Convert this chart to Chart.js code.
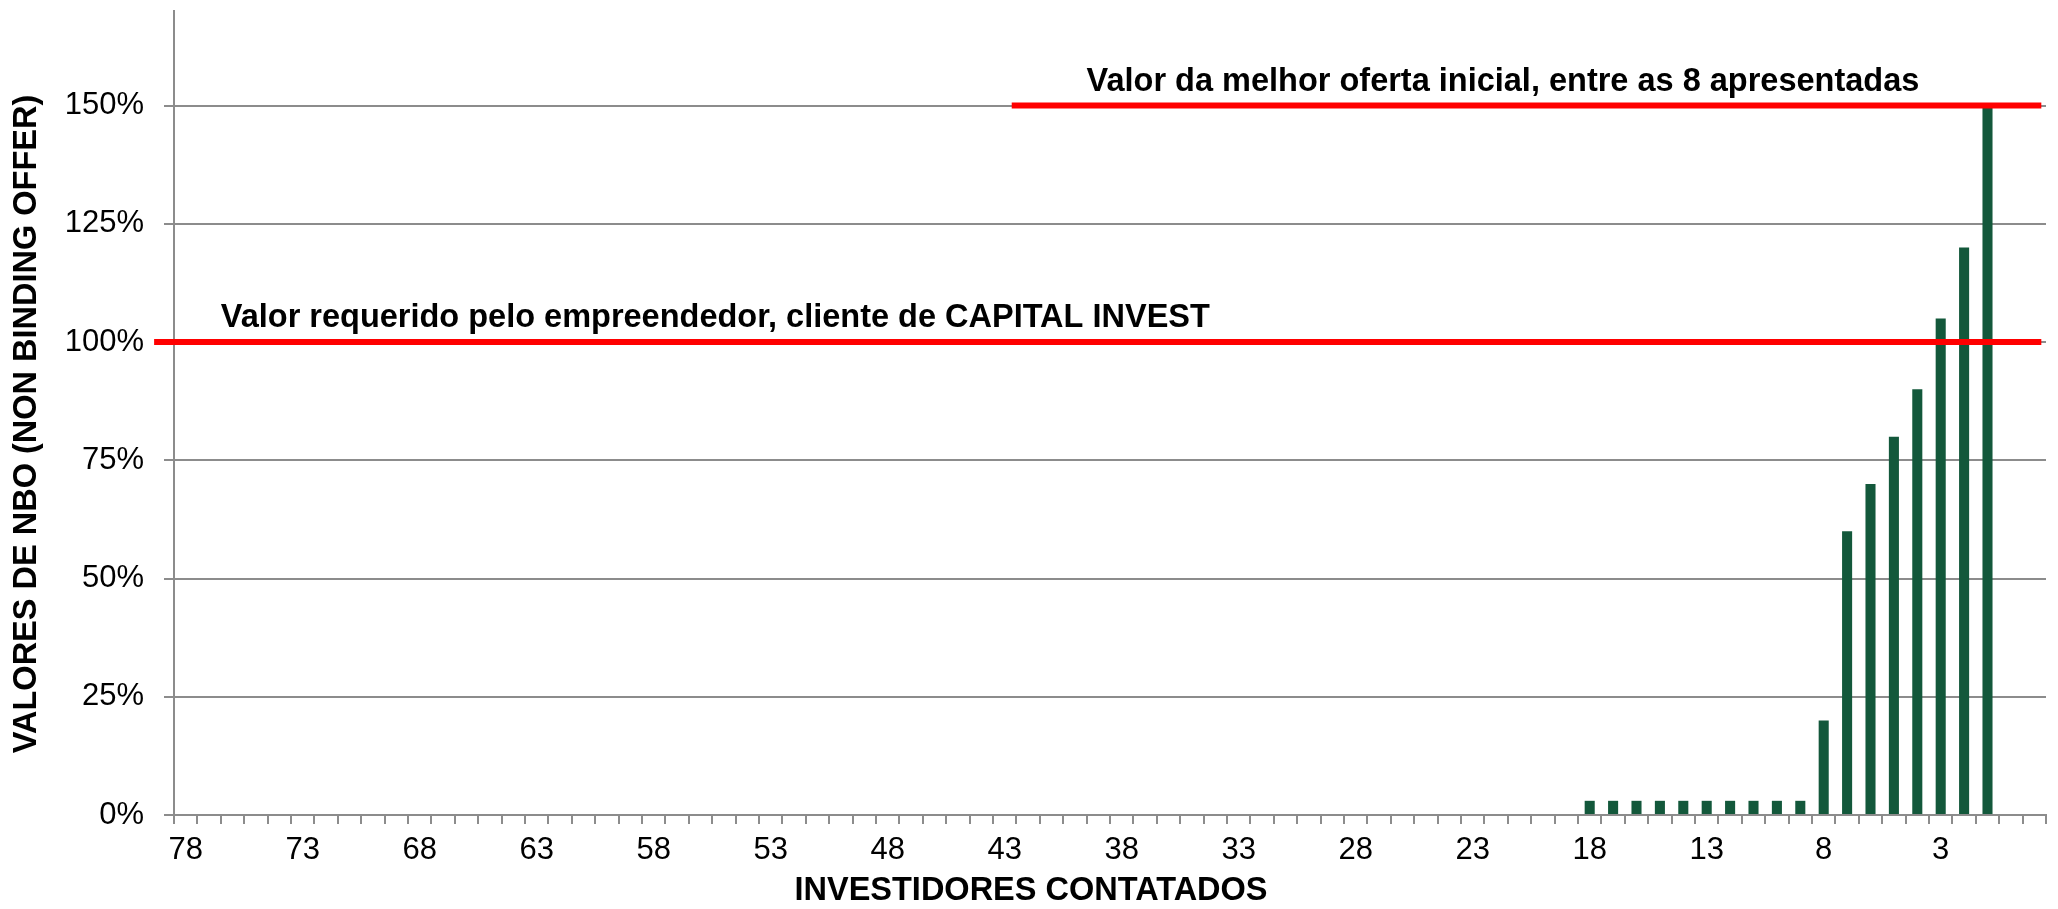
<!DOCTYPE html>
<html><head><meta charset="utf-8">
<script src="https://cdn.jsdelivr.net/npm/chart.js@4.4.1/dist/chart.umd.min.js"></script>
<style>html,body{margin:0;padding:0;background:#fff;overflow:hidden}</style>
</head><body>
<canvas id="c" width="2058" height="909"></canvas>
<script>
// ---- data ----
const axisCategories = ['78','77','76','75','74','73','72','71','70','69','68','67','66','65','64','63','62','61','60','59',
  '58','57','56','55','54','53','52','51','50','49','48','47','46','45','44','43','42','41','40','39',
  '38','37','36','35','34','33','32','31','30','29','28','27','26','25','24','23','22','21','20','19',
  '18','17','16','15','14','13','12','11','10','9','8','7','6','5','4','3','2','1','',''];
const barCategories = ['18','17','16','15','14','13','12','11','10','9','8','7','6','5','4','3','2','1'];
const barValues = [3,3,3,3,3,3,3,3,3,3,20,60,70,80,90,105,120,150];
const yMax = 170;
const yStep = 25;
const refLevels = [100, 150];
const refStarts = [-1.35, 35.3];   // in category-index units (index centres are whole numbers)
const refEnds = [79.3, 79.3];
const refLabels = ['Valor requerido pelo empreendedor, cliente de CAPITAL INVEST',
                   'Valor da melhor oferta inicial, entre as 8 apresentadas'];
const refLabelStarts = [1.5, 38.5];
const xTitle = 'INVESTIDORES CONTATADOS';
const yTitle = 'VALORES DE NBO (NON BINDING OFFER)';

const FONT = "'Liberation Sans', Arial, sans-serif";
const GRID = '#8c8c8c';
const GREEN = '#13583b';
const RED = '#ff0000';

const overlay = {
  id: 'overlay',
  afterDatasetsDraw(chart) {
    const ctx = chart.ctx;
    const x = chart.scales.x, y = chart.scales.y;
    ctx.save();
    // reference lines
    ctx.strokeStyle = RED;
    ctx.lineWidth = 6;
    ctx.lineCap = 'butt';
    refLevels.forEach((lv, i) => {
      const py = y.getPixelForValue(lv);
      ctx.beginPath();
      ctx.moveTo(x.getPixelForValue(refStarts[i]), py);
      ctx.lineTo(x.getPixelForValue(refEnds[i]), py);
      ctx.stroke();
    });
    // labels above the lines
    ctx.fillStyle = '#000';
    ctx.font = "bold 32.5px " + FONT;
    ctx.textBaseline = 'alphabetic';
    ctx.textAlign = 'left';
    refLabels.forEach((t, i) => {
      ctx.fillText(t, x.getPixelForValue(refLabelStarts[i]), y.getPixelForValue(refLevels[i]) - 15);
    });
    // axis titles
    ctx.font = "bold 32.5px " + FONT;
    ctx.textAlign = 'center';
    ctx.textBaseline = 'middle';
    ctx.fillText(xTitle, 1031, 891);
    ctx.translate(27, 424);
    ctx.rotate(-Math.PI / 2);
    ctx.fillText(yTitle, 0, 0);
    ctx.restore();
  }
};

new Chart(document.getElementById('c'), {
  type: 'bar',
  data: {
    labels: axisCategories,
    datasets: [
      {
        data: barCategories.map((c, i) => ({x: c, y: barValues[i]})),
        backgroundColor: GREEN,
        barPercentage: 0.43,
        categoryPercentage: 1
      }
    ]
  },
  options: {
    responsive: false,
    animation: false,
    devicePixelRatio: 1,
    layout: {padding: {top: 11, right: 12, left: 0, bottom: 0}},
    plugins: {legend: {display: false}, tooltip: {enabled: false}},
    scales: {
      x: {
        type: 'category',
        offset: true,
        grid: {display: true, drawOnChartArea: false, offset: true, color: GRID, lineWidth: 2, tickLength: 9},
        border: {display: true, color: GRID, width: 2},
        ticks: {
          autoSkip: false, maxRotation: 0, minRotation: 0, padding: 8,
          color: '#000', font: {family: FONT, size: 31},
          callback: function(v, i) { return i % 5 === 0 ? this.getLabelForValue(v) : ''; }
        },
        afterFit: s => { s.height = 94; s.paddingLeft = 0; s.paddingRight = 0; }
      },
      y: {
        min: 0, max: yMax,
        grid: {color: GRID, lineWidth: 2, tickLength: 10},
        border: {display: true, color: GRID, width: 2},
        ticks: {
          stepSize: yStep, includeBounds: false, padding: 20,
          color: '#000', font: {family: FONT, size: 31},
          callback: v => v + '%'
        },
        afterFit: s => { s.width = 174; s.paddingTop = 0; s.paddingBottom = 0; }
      }
    }
  },
  plugins: [overlay]
});
</script>
</body></html>
